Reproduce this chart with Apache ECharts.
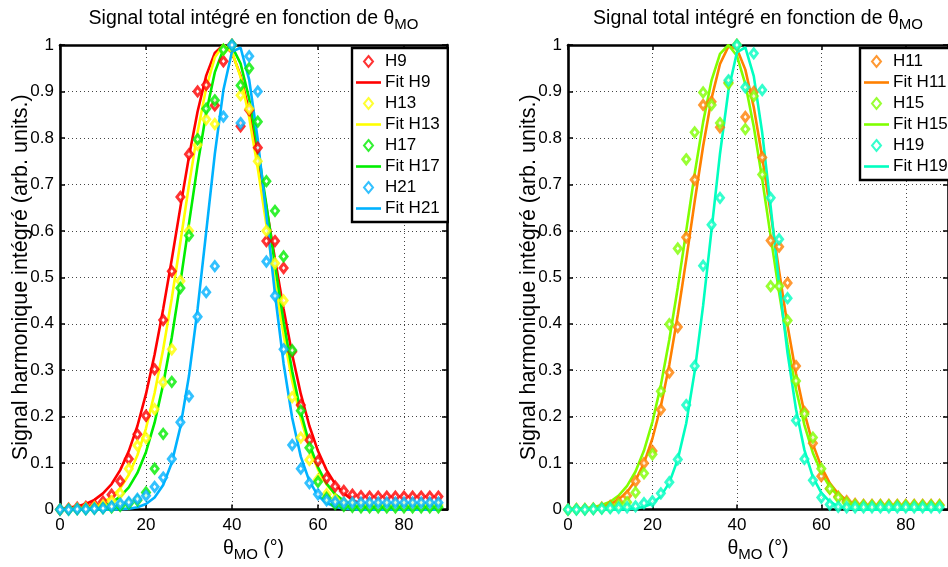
<!DOCTYPE html>
<html><head><meta charset="utf-8">
<script src="https://cdn.jsdelivr.net/npm/echarts@6/dist/echarts.min.js"></script>
<style>html,body{margin:0;padding:0;background:#fff}#c{width:948px;height:567px}</style>
</head><body><div id="c"></div>
<script>
// angle theta_MO (deg)
const theta = [0,2,4,6,8,10,12,14,16,18,20,22,24,26,28,30,32,34,36,38,40,42,44,46,48,50,52,54,56,58,60,62,64,66,68,70,72,74,76,78,80,82,84,86,88];
const xTicks = [0,20,40,60,80];
const yTicks = [0,0.1,0.2,0.3,0.4,0.5,0.6,0.7,0.8,0.9,1];

// Left panel measured
const H9  = [0.000,0.002,0.004,0.006,0.010,0.017,0.032,0.061,0.109,0.162,0.202,0.302,0.408,0.513,0.673,0.765,0.900,0.914,0.870,0.965,1.000,0.825,0.860,0.779,0.578,0.578,0.520,0.340,0.225,0.150,0.105,0.068,0.050,0.040,0.032,0.029,0.028,0.028,0.028,0.028,0.028,0.028,0.028,0.028,0.028];
const H13 = [0.000,0.001,0.002,0.003,0.005,0.009,0.018,0.035,0.088,0.138,0.154,0.216,0.274,0.345,0.492,0.600,0.785,0.840,0.830,0.990,1.000,0.892,0.863,0.750,0.600,0.530,0.450,0.242,0.155,0.107,0.065,0.033,0.022,0.015,0.012,0.010,0.010,0.010,0.010,0.010,0.010,0.010,0.010,0.010,0.010];
const H17 = [0.000,0.000,0.001,0.001,0.002,0.003,0.005,0.008,0.013,0.020,0.037,0.088,0.163,0.275,0.477,0.590,0.797,0.863,0.881,0.990,1.000,0.913,0.950,0.835,0.707,0.643,0.545,0.343,0.213,0.133,0.060,0.025,0.012,0.008,0.006,0.005,0.005,0.005,0.005,0.005,0.005,0.005,0.005,0.005,0.005];
const H21 = [0.000,0.000,0.001,0.001,0.002,0.003,0.007,0.013,0.016,0.023,0.030,0.049,0.069,0.109,0.188,0.244,0.415,0.468,0.524,0.846,1.000,0.832,0.976,0.900,0.534,0.460,0.345,0.139,0.088,0.057,0.033,0.020,0.017,0.015,0.015,0.015,0.015,0.015,0.015,0.015,0.015,0.015,0.015,0.015,0.015];
// Left panel fits
const FitH9  = [0.002,0.004,0.007,0.012,0.021,0.035,0.055,0.085,0.126,0.180,0.249,0.334,0.432,0.539,0.651,0.760,0.857,0.934,0.983,1.000,0.983,0.934,0.857,0.760,0.651,0.539,0.432,0.334,0.249,0.180,0.126,0.085,0.055,0.035,0.021,0.012,0.007,0.004,0.002,0.001,0,0,0,0,0];
const FitH13 = [0.000,0.001,0.002,0.004,0.008,0.016,0.027,0.046,0.075,0.117,0.175,0.251,0.345,0.455,0.576,0.699,0.813,0.908,0.973,1.000,0.985,0.931,0.844,0.734,0.613,0.490,0.376,0.277,0.196,0.133,0.086,0.054,0.032,0.018,0.010,0.005,0.003,0.001,0.001,0,0,0,0,0,0];
const FitH17 = [0.000,0.000,0.001,0.002,0.004,0.008,0.015,0.028,0.048,0.079,0.124,0.187,0.270,0.371,0.489,0.616,0.742,0.854,0.941,0.991,0.997,0.960,0.884,0.778,0.655,0.527,0.405,0.298,0.210,0.141,0.091,0.056,0.033,0.019,0.010,0.005,0.003,0.001,0.001,0,0,0,0,0,0];
const FitH21 = [0,0,0,0,0,0,0,0.001,0.002,0.005,0.012,0.026,0.053,0.101,0.178,0.288,0.432,0.598,0.765,0.903,0.986,0.994,0.925,0.796,0.632,0.464,0.314,0.197,0.114,0.061,0.030,0.014,0.006,0.002,0.001,0,0,0,0,0,0,0,0,0,0];

// Right panel measured
const H11 = [0.000,0.001,0.001,0.002,0.004,0.008,0.016,0.030,0.061,0.100,0.126,0.215,0.295,0.393,0.586,0.710,0.871,0.878,0.823,0.920,1.000,0.845,0.899,0.758,0.579,0.566,0.488,0.309,0.210,0.143,0.072,0.045,0.028,0.018,0.012,0.010,0.010,0.010,0.010,0.010,0.010,0.010,0.010,0.010,0.010];
const H15 = [0.000,0.001,0.001,0.002,0.003,0.005,0.010,0.016,0.037,0.078,0.119,0.255,0.399,0.562,0.754,0.812,0.898,0.871,0.832,0.917,1.000,0.819,0.890,0.721,0.481,0.481,0.407,0.277,0.206,0.155,0.088,0.045,0.026,0.015,0.010,0.009,0.009,0.009,0.009,0.009,0.009,0.009,0.009,0.009,0.009];
const H19 = [0.000,0.000,0.000,0.001,0.002,0.003,0.004,0.005,0.007,0.014,0.018,0.035,0.059,0.108,0.225,0.309,0.525,0.613,0.671,0.924,1.000,0.909,0.982,0.903,0.671,0.582,0.455,0.192,0.109,0.063,0.026,0.011,0.006,0.005,0.005,0.005,0.005,0.005,0.005,0.005,0.005,0.005,0.005,0.005,0.005];
// Right panel fits
const FitH11 = [0.000,0.001,0.002,0.003,0.007,0.012,0.022,0.038,0.063,0.100,0.153,0.223,0.312,0.419,0.538,0.663,0.782,0.885,0.959,0.997,0.992,0.947,0.866,0.759,0.638,0.513,0.396,0.293,0.208,0.141,0.092,0.057,0.034,0.020,0.011,0.006,0.003,0.001,0.001,0,0,0,0,0,0];
const FitH15 = [0.001,0.001,0.003,0.005,0.010,0.017,0.030,0.051,0.082,0.127,0.189,0.268,0.366,0.478,0.600,0.723,0.834,0.924,0.981,1.000,0.977,0.916,0.824,0.711,0.588,0.467,0.355,0.259,0.182,0.122,0.079,0.049,0.029,0.016,0.009,0.005,0.002,0.001,0.001,0,0,0,0,0,0];
const FitH19 = [0,0,0,0,0,0,0,0.001,0.002,0.006,0.013,0.029,0.058,0.108,0.186,0.297,0.439,0.602,0.766,0.902,0.984,0.995,0.933,0.811,0.652,0.487,0.337,0.216,0.128,0.070,0.036,0.017,0.007,0.003,0.001,0,0,0,0,0,0,0,0,0,0];

const titleText = 'Signal total intégré en fonction de θ';
const yName = 'Signal harmonique intégré (arb. units.)';

const FONT = '"Liberation Sans", Arial, Helvetica, sans-serif';
const COL = {H9:'#ff0000', H11:'#ff8000', H13:'#ffff00', H15:'#80ff00', H17:'#00ee00', H19:'#00ffc0', H21:'#00b2ff'};
const DIAMOND_ICON = 'path://M4.5,0L9,5.5L4.5,11L0,5.5Z';
const LINE_ICON = 'path://M0,0H25V2.6H0Z';

function pts(arr){ return theta.map((t,i)=>[t, arr[i]]); }

function scatter(name, arr, g){
  return {type:'scatter', name, data:pts(arr), xAxisIndex:2*g, yAxisIndex:2*g,
    symbol:'diamond', symbolSize:[7,9], clip:false,
    itemStyle:{color:'#ffffff', borderColor:COL[name], borderWidth:3},
    emphasis:{disabled:true}, z:3};
}
function fit(name, key, arr, g){
  return {type:'line', name, data:pts(arr), xAxisIndex:2*g, yAxisIndex:2*g,
    symbol:'none', smooth:false, clip:true,
    lineStyle:{color:COL[key], width:2.6}, itemStyle:{color:COL[key]},
    emphasis:{disabled:true}, z:3};
}

const grids = [
  {left:60, top:45, width:387, height:471},
  {left:568, top:45, width:387, height:471}
];
const rich = {
  m:{fontSize:19.5, fontFamily:FONT, color:'#000'},
  s:{fontSize:15, fontFamily:FONT, color:'#000', padding:[12,0,0,0]}
};
function xBottom(g){
  return {type:'value', gridIndex:g, position:'bottom', min:0, max:90, interval:20,
    name:'{m|θ}{s|MO}{m| (°)}', nameLocation:'middle', nameGap:22,
    nameTextStyle:{rich},
    axisLine:{show:true, onZero:false, lineStyle:{color:'#000', width:2.6}},
    axisTick:{show:true, inside:true, length:5, lineStyle:{color:'#000', width:1.5}},
    axisLabel:{show:true, margin:7, fontSize:17, fontFamily:FONT, color:'#000', showMaxLabel:false},
    splitLine:{show:true, lineStyle:{color:'#444', width:1, type:[1,3]}}};
}
function xTop(g){
  return {type:'value', gridIndex:g, position:'top', min:0, max:90, interval:20,
    name:'{m|'+titleText+'}{s|MO}', nameLocation:'middle', nameGap:13,
    nameTextStyle:{rich},
    axisLine:{show:true, onZero:false, lineStyle:{color:'#000', width:2.6}},
    axisTick:{show:true, inside:true, length:5, lineStyle:{color:'#000', width:1.5}},
    axisLabel:{show:false}, splitLine:{show:false}};
}
function yLeft(g){
  return {type:'value', gridIndex:g, position:'left', min:0, max:1, interval:0.1,
    name:yName, nameLocation:'middle', nameGap:28, nameMoveOverlap:false,
    nameTextStyle:{fontSize:21.5, fontFamily:FONT, color:'#000'},
    axisLine:{show:true, onZero:false, lineStyle:{color:'#000', width:2.6}},
    axisTick:{show:true, inside:true, length:5, lineStyle:{color:'#000', width:1.5}},
    axisLabel:{show:true, margin:6, fontSize:17, fontFamily:FONT, color:'#000'},
    splitLine:{show:true, lineStyle:{color:'#444', width:1, type:[1,3]}}};
}
function yRight(g){
  return {type:'value', gridIndex:g, position:'right', min:0, max:1, interval:0.1,
    axisLine:{show:true, onZero:false, lineStyle:{color:'#000', width:2.6}},
    axisTick:{show:true, inside:true, length:5, lineStyle:{color:'#000', width:1.5}},
    axisLabel:{show:false}, splitLine:{show:false}};
}
function legend(names, left, top){
  const data = names.map(n => n.indexOf('Fit') === 0 ? {name:n, icon:LINE_ICON} : {name:n, icon:DIAMOND_ICON});
  return {show:true, orient:'vertical', left, top, data,
    itemWidth:25, itemHeight:11, itemGap:4, padding:[5,8,5,4],
    backgroundColor:'#fff', borderColor:'#000', borderWidth:2.4, borderRadius:0,
    selectedMode:false, inactiveColor:'#fff',
    textStyle:{fontSize:17, fontFamily:FONT, color:'#000', padding:[0,0,0,-1]}};
}

const option = {
  animation:false,
  backgroundColor:'#fff',
  grid:grids,
  xAxis:[xBottom(0), xTop(0), xBottom(1), xTop(1)],
  yAxis:[yLeft(0), yRight(0), yLeft(1), yRight(1)],
  legend:[
    legend(['H9','Fit H9','H13','Fit H13','H17','Fit H17','H21','Fit H21'], 352, 48),
    legend(['H11','Fit H11','H15','Fit H15','H19','Fit H19'], 860, 48)
  ],
  series:[
    scatter('H9', H9, 0), fit('Fit H9','H9', FitH9, 0),
    scatter('H13', H13, 0), fit('Fit H13','H13', FitH13, 0),
    scatter('H17', H17, 0), fit('Fit H17','H17', FitH17, 0),
    scatter('H21', H21, 0), fit('Fit H21','H21', FitH21, 0),
    scatter('H11', H11, 1), fit('Fit H11','H11', FitH11, 1),
    scatter('H15', H15, 1), fit('Fit H15','H15', FitH15, 1),
    scatter('H19', H19, 1), fit('Fit H19','H19', FitH19, 1)
  ]
};
const chart = echarts.init(document.getElementById('c'), null, {renderer:'canvas'});
chart.setOption(option);
</script>
</body></html>
